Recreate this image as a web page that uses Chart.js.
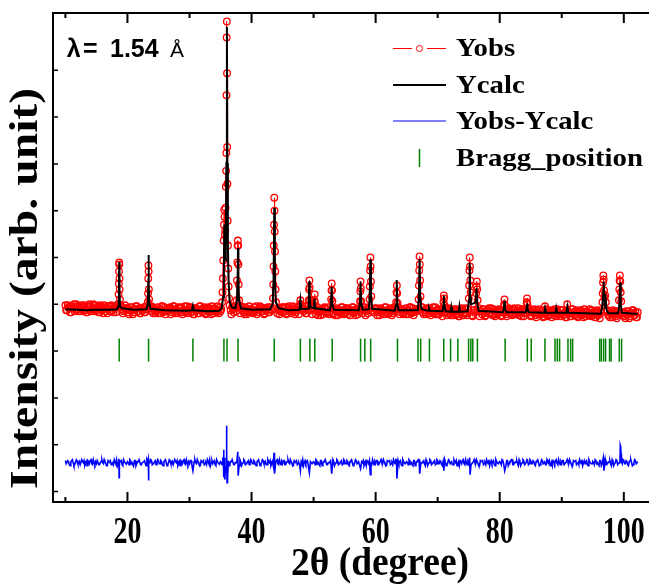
<!DOCTYPE html>
<html>
<head>
<meta charset="utf-8">
<script src="https://cdn.jsdelivr.net/npm/chart.js@4.4.1/dist/chart.umd.min.js"></script>
<style>
  html, body { margin: 0; padding: 0; background: #fff; }
  #xrd { display: block; }
</style>
</head>
<body>
<canvas id="xrd" width="662" height="584"></canvas>
<script>
///////////////////////////////////////////////////////////////
// data (2theta in degree, intensity in arb. unit)
///////////////////////////////////////////////////////////////

// background parts of Yobs and Yobs-Ycalc: 0.25 deg grids, the second one shifted by 0.125
const GRID_STEP = 0.25;
const GRID_START_A = 10;
const GRID_START_B = 10.125;

const yobsBackgroundA = [
  187,182,185,180,186,184,181,188,183,186,181,185,187,182,180,185,186,183,188,181, // 10
  182,186,180,185,183,187,181,179,184,186,182,180,185,187,183,181,186,179,184,182, // 15
  184,178,182,185,180,183,186,181,179,184,182,180,186,183,178,185,181,184,179,182, // 20
  179,183,186,180,185,181,182,184,178,183,186,179,181,185,184,180,182,186,181,179, // 25
  185,180,183,178,184,182,179,186,181,184,179,183,185,180,178,183,184,181,186,179, // 30
  181,185,179,184,182,186,180,178,183,185,181,179,184,186,182,180,185,178,183,181, // 35
  183,179,181,186,180,182,185,181,178,184,183,180,185,182,179,186,181,183,178,182, // 40
  180,184,185,179,186,181,183,184,178,182,185,180,181,186,183,179,182,185,181,178, // 45
  184,179,182,177,183,181,178,185,180,183,178,182,184,179,177,182,183,180,185,178, // 50
  180,184,178,183,181,185,179,177,182,184,180,178,183,185,181,179,184,177,182,180, // 55
  183,177,181,184,179,182,185,180,178,183,181,179,185,182,177,184,180,183,178,181, // 60
  178,182,185,179,184,180,181,183,177,182,185,178,180,184,183,179,181,185,180,178, // 65
  183,178,181,176,182,180,177,184,179,182,177,181,183,178,176,181,182,179,184,177, // 70
  179,183,177,182,180,184,178,176,181,183,179,177,182,184,180,178,183,176,181,179, // 75
  182,176,180,183,178,181,184,179,177,182,180,178,184,181,176,183,179,182,177,180, // 80
  176,180,183,177,182,178,179,181,175,180,183,176,178,182,181,177,179,183,178,176, // 85
  182,177,180,175,181,179,176,183,178,181,176,180,182,177,175,180,181,178,183,176, // 90
  177,181,175,180,178,182,176,174,179,181,177,175,180,182,178,176,181,174,179,177, // 95
  180,174,178,181,176,179,182,177,175,180                                          // 100
];

const yobsBackgroundB = [
  182,187,184,180,185,188,183,186,181,184,187,182,185,180,186,188,181,184,183,187, // 10.125
  184,180,187,182,179,185,183,186,181,187,182,184,180,185,186,179,183,181,187,184, // 15.125
  180,185,182,178,183,186,181,184,179,182,185,180,183,178,184,186,179,182,181,185, // 20.125
  183,179,186,181,178,184,182,185,180,186,181,183,179,184,185,178,182,180,186,183, // 25.125
  185,181,178,184,182,179,186,183,180,185,178,182,184,181,186,179,183,180,182,185, // 30.125
  183,179,186,181,178,184,182,185,180,186,181,183,179,184,185,178,182,180,186,183, // 35.125
  180,185,182,178,183,186,181,184,179,182,185,180,183,178,184,186,179,182,181,185, // 40.125
  185,181,178,184,182,179,186,183,180,185,178,182,184,181,186,179,183,180,182,185, // 45.125
  182,178,185,180,177,183,181,184,179,185,180,182,178,183,184,177,181,179,185,182, // 50.125
  179,184,181,177,182,185,180,183,178,181,184,179,182,177,183,185,178,181,180,184, // 55.125
  184,180,177,183,181,178,185,182,179,184,177,181,183,180,185,178,182,179,181,184, // 60.125
  182,178,185,180,177,183,181,184,179,185,180,182,178,183,184,177,181,179,185,182, // 65.125
  178,183,180,176,181,184,179,182,177,180,183,178,181,176,182,184,177,180,179,183, // 70.125
  183,179,176,182,180,177,184,181,178,183,176,180,182,179,184,177,181,178,180,183, // 75.125
  181,177,184,179,176,182,180,183,178,184,179,181,177,182,183,176,180,178,184,181, // 80.125
  177,182,179,175,180,183,178,181,176,179,182,177,180,175,181,183,176,179,178,182, // 85.125
  182,178,175,181,179,176,183,180,177,182,175,179,181,178,183,176,180,177,179,182, // 90.125
  179,175,182,177,174,180,178,181,176,182,177,179,175,180,181,174,178,176,182,179, // 95.125
  176,181,178,174,179,182,177,180,175                                              // 100.125
];

// Yobs points on the reflections [2theta, I]
const yobsPeaks = [
  [18.52,188],[18.57,198],[18.61,209],[18.64,221],[18.67,230],[18.69,228],[18.72,214],[18.75,203],[18.79,193],[18.84,187],
  [23.27,190],[23.31,199],[23.35,214],[23.38,227],[23.41,221],[23.45,203],[23.49,193],
  [35.25,190],[35.32,200],[35.38,214],[35.44,232],[35.5,252],[35.55,268],[35.6,283],[35.65,276],[35.7,258],
  [35.76,262],[35.81,285],[35.86,306],[35.9,322],[35.93,340],[35.96,398],[35.99,456],[36.02,472],[36.05,420],
  [36.08,346],[36.11,309],[36.15,272],[36.2,247],[36.25,224],[36.31,206],[36.38,194],[36.46,187],
  [37.6,192],[37.66,212],[37.71,230],[37.76,247],[37.8,252],[37.84,247],[37.88,228],[37.93,208],[38.0,192],
  [43.45,194],[43.5,208],[43.54,226],[43.58,247],[43.62,268],[43.66,295],[43.7,282],[43.74,261],[43.78,241],
  [43.83,221],[43.88,203],[43.95,190],
  [47.82,188],[47.87,192],[47.92,188],
  [49.22,192],[49.27,203],[49.32,212],[49.37,205],[49.43,192],
  [50.12,192],[50.17,198],[50.22,190],
  [52.83,193],[52.88,202],[52.92,209],[52.97,202],[53.03,191],
  [57.49,191],[57.53,201],[57.57,211],[57.61,204],[57.67,191],
  [59.02,193],[59.07,206],[59.11,222],[59.15,235],[59.19,226],[59.24,211],[59.3,196],
  [63.32,190],[63.37,200],[63.42,207],[63.47,199],[63.54,189],
  [66.93,193],[66.98,207],[67.03,222],[67.08,236],[67.12,228],[67.17,212],[67.24,196],
  [70.93,190],[70.99,197],[71.04,194],[71.1,187],
  [75.02,194],[75.07,207],[75.12,222],[75.17,235],[75.21,226],[75.26,212],[75.32,200],
  [76.2,199],[76.26,206],[76.31,211],[76.37,203],[76.44,192],
  [80.7,188],[80.76,193],[80.83,187],
  [84.35,190],[84.41,194],[84.48,188],
  [87.3,186],
  [90.88,188],
  [96.55,190],[96.6,199],[96.65,210],[96.7,217],[96.76,213],[96.82,202],[96.9,195],[97.0,197],[97.1,190],
  [99.22,192],[99.27,203],[99.32,212],[99.37,217],[99.43,211],[99.5,200],[99.58,191]
];

// Ycalc profile [2theta, I]
const ycalc = [
  [10.0,183],[12.0,182.5],[13.5,182],[14.5,182.5],[17.0,182.5],[18.3,183],
  [18.55,186],[18.62,200],[18.67,230.5],[18.72,200],[18.8,186],[19.1,184],
  [21.0,182.5],[23.1,183],[23.3,190],[23.36,210],[23.4,237.5],[23.44,210],[23.5,190],[23.7,183.5],
  [26.0,182],[29.5,181.5],[30.4,182],[30.55,186.5],[30.7,182],[33.0,181],[34.8,181.5],
  [35.2,184],[35.4,195],[35.55,230],[35.62,268],[35.68,240],[35.75,232],[35.85,245],[35.95,330],
  [36.03,466.5],[36.1,330],[36.18,250],[36.3,210],[36.5,190],[36.8,185],
  [37.4,184],[37.65,192],[37.76,215],[37.82,244.5],[37.88,215],[37.98,192],[38.3,184],
  [40.0,182.5],[43.0,183],[43.4,188],[43.56,215],[43.66,284.8],[43.76,215],[43.92,190],[44.4,184],
  [46.0,182],[47.7,182.5],[47.87,192.2],[48.02,183],
  [49.1,183.5],[49.23,195],[49.3,211.5],[49.37,195],[49.5,185],
  [50.05,184],[50.15,193.5],[50.25,184],
  [52.6,182],[52.8,188],[52.9,205.5],[53.0,188],[53.3,182.5],
  [57.3,182],[57.48,190],[57.57,210.8],[57.66,190],[57.9,182.5],
  [58.9,183],[59.05,195],[59.15,233.2],[59.25,195],[59.45,183.5],
  [63.1,181.5],[63.3,188],[63.4,212.5],[63.5,188],[63.7,182],
  [66.8,182],[66.98,195],[67.08,233.2],[67.18,195],[67.4,183],
  [68.45,181.5],[68.6,184.2],[68.75,181.5],
  [70.8,181],[70.92,187],[71.0,196.5],[71.08,187],[71.3,181],
  [72.1,180.5],[72.2,185],[72.3,180.5],[73.4,180.5],[73.5,185.5],[73.6,180.5],
  [74.8,181],[75.05,192],[75.15,229.8],[75.25,195],[75.35,188],[76.15,190],[76.25,204.2],[76.4,188],[76.6,181.5],
  [80.5,180],[80.65,183],[80.75,191.5],[80.85,183],[81.1,180],
  [84.2,180],[84.32,183],[84.4,188.8],[84.48,183],[84.7,180],
  [87.2,179.5],[87.3,183.5],[87.4,179.5],[89.0,179.5],[89.1,183.5],[89.2,179.5],
  [90.75,179.5],[90.9,185.5],[91.05,179.5],
  [96.3,178.5],[96.55,186],[96.68,200],[96.75,210.8],[96.82,198],[96.95,190],[97.07,193.5],[97.2,183],[97.5,179],
  [99.1,179],[99.3,188],[99.4,209.8],[99.5,188],[99.7,179.5],[102.2,178.2]
];

// Yobs-Ycalc (shifted down)
const diffBackgroundA = [
  31,28,30,26,31,29,27,32,28,30,27,30,31,28,26,30,31,28,32,27,
  28,31,27,30,29,32,28,26,30,31,28,27,30,32,29,28,31,26,30,28,
  30,27,31,29,26,31,28,30,32,27,29,31,26,30,28,32,27,29,31,28,
  31,28,30,26,31,29,27,32,28,30,27,30,31,28,26,30,31,28,32,27,
  28,31,27,30,29,32,28,26,30,31,28,27,30,32,29,28,31,26,30,28,
  30,27,31,29,26,31,28,30,32,27,29,31,26,30,28,32,27,29,31,28,
  31,28,30,26,31,29,27,32,28,30,27,30,31,28,26,30,31,28,32,27,
  28,31,27,30,29,32,28,26,30,31,28,27,30,32,29,28,31,26,30,28,
  30,27,31,29,26,31,28,30,32,27,29,31,26,30,28,32,27,29,31,28,
  31,28,30,26,31,29,27,32,28,30,27,30,31,28,26,30,31,28,32,27,
  28,31,27,30,29,32,28,26,30,31,28,27,30,32,29,28,31,26,30,28,
  30,27,31,29,26,31,28,30,32,27,29,31,26,30,28,32,27,29,31,28,
  31,28,30,26,31,29,27,32,28,30,27,30,31,28,26,30,31,28,32,27,
  28,31,27,30,29,32,28,26,30,31,28,27,30,32,29,28,31,26,30,28,
  30,27,31,29,26,31,28,30,32,27,29,31,26,30,28,32,27,29,31,28,
  31,28,30,26,31,29,27,32,28,30,27,30,31,28,26,30,31,28,32,27,
  28,31,27,30,29,32,28,26,30,31,28,27,30,32,29,28,31,26,30,28,
  30,27,31,29,26,31,28,30,32,27,29,31,26,30,28,32,27,29,31,28,
  31,28,30,26,31,29,27,32,28,30
];

const diffBackgroundB = [
  28,31,27,30,32,26,29,31,28,27,32,29,26,30,31,28,32,27,29,30,
  31,27,29,32,28,30,26,31,30,27,29,32,28,26,31,30,27,32,29,28,
  29,32,28,27,31,26,30,32,27,29,30,28,32,26,29,31,28,30,27,32,
  28,31,27,30,32,26,29,31,28,27,32,29,26,30,31,28,32,27,29,30,
  31,27,29,32,28,30,26,31,30,27,29,32,28,26,31,30,27,32,29,28,
  29,32,28,27,31,26,30,32,27,29,30,28,32,26,29,31,28,30,27,32,
  28,31,27,30,32,26,29,31,28,27,32,29,26,30,31,28,32,27,29,30,
  31,27,29,32,28,30,26,31,30,27,29,32,28,26,31,30,27,32,29,28,
  29,32,28,27,31,26,30,32,27,29,30,28,32,26,29,31,28,30,27,32,
  28,31,27,30,32,26,29,31,28,27,32,29,26,30,31,28,32,27,29,30,
  31,27,29,32,28,30,26,31,30,27,29,32,28,26,31,30,27,32,29,28,
  29,32,28,27,31,26,30,32,27,29,30,28,32,26,29,31,28,30,27,32,
  28,31,27,30,32,26,29,31,28,27,32,29,26,30,31,28,32,27,29,30,
  31,27,29,32,28,30,26,31,30,27,29,32,28,26,31,30,27,32,29,28,
  29,32,28,27,31,26,30,32,27,29,30,28,32,26,29,31,28,30,27,32,
  28,31,27,30,32,26,29,31,28,27,32,29,26,30,31,28,32,27,29,30,
  31,27,29,32,28,30,26,31,30,27,29,32,28,26,31,30,27,32,29,28,
  29,32,28,27,31,26,30,32,27,29,30,28,32,26,29,31,28,30,27,32,
  28,31,27,30,32,26,29,31,28
];

const diffSpikes = [
  [18.62,33],[18.66,14],[18.7,31],
  [23.36,33],[23.4,11],[23.44,30],
  [30.55,21],
  [35.46,31],[35.5,42],[35.55,14],[35.62,34],[35.7,12],[35.8,25],[35.9,20],[35.97,66],[36.01,40],
  [36.05,9],[36.1,22],[36.17,13],[36.26,31],
  [37.78,40],[37.84,16],
  [43.62,39],[43.7,18],
  [47.87,21],[49.32,19],[52.92,18],[57.57,23],[59.15,17],
  [63.37,32],[63.43,13],
  [67.1,18],[71.0,21],
  [75.15,34],[75.22,17],
  [80.8,21],[84.4,32],
  [96.7,34],[96.8,21],
  [99.38,30],[99.43,46],[99.5,44],[99.56,38],[99.62,30]
];

// Bragg reflections (2theta)
const braggPositions = [
  18.67, 23.4, 30.55, 35.55, 36.05, 37.82, 43.66, 47.87, 49.4, 50.19, 53.0,
  57.57, 58.26, 59.2, 63.52, 66.83, 67.26, 68.67, 70.98, 72.08, 73.25,
  74.98, 75.35, 75.66, 76.4, 80.87, 84.45, 85.08, 87.29, 88.91, 89.28, 89.65,
  91.0, 91.43, 91.75, 96.12, 96.38, 96.75, 97.07, 97.7, 97.95, 99.27, 99.64
];
const braggLevel = 142;

// axes
const X_MIN = 8.0, X_MAX = 104.06;
const Y_MIN = -10.5, Y_MAX = 480.5;
const xMajorTicks = [20, 40, 60, 80, 100];
const xTickLabels = ['20', '40', '60', '80', '100'];
const xMinorTicks = [10, 30, 50, 70, 90];
const yTicks = [0, 47, 94, 141, 188, 235, 282, 329, 376, 423];

///////////////////////////////////////////////////////////////
// helpers
///////////////////////////////////////////////////////////////

const SERIF = '"Liberation Serif", "Times New Roman", serif';
const SANS = '"Liberation Sans", Arial, sans-serif';

function gridPoints(values, start) {
  return values.map((v, i) => ({ x: start + i * GRID_STEP, y: v }));
}

// background grid(s) + peak points; grid points sitting on a peak are dropped
function mergeSeries(grids, peakPoints) {
  const pts = [];
  grids.forEach(g => {
    g.forEach(p => {
      if (!peakPoints.some(q => Math.abs(q[0] - p.x) < 0.08)) pts.push(p);
    });
  });
  peakPoints.forEach(q => pts.push({ x: q[0], y: q[1] }));
  pts.sort((a, b) => a.x - b.x);
  return pts;
}

function text(ctx, str, x, y, font, align, sx, sy) {
  ctx.save();
  ctx.translate(x, y);
  ctx.scale(sx, sy);
  ctx.font = font;
  ctx.textAlign = align;
  ctx.textBaseline = 'alphabetic';
  ctx.fillText(str, 0, 0);
  ctx.restore();
}

function textToWidth(ctx, str, x, y, font, align, width, sy) {
  ctx.save();
  ctx.font = font;
  const w = ctx.measureText(str).width;
  ctx.restore();
  text(ctx, str, x, y, font, align, width / w, sy);
}

///////////////////////////////////////////////////////////////
// frame, ticks, titles, legend
///////////////////////////////////////////////////////////////

const decorations = {
  id: 'decorations',
  afterDraw(chart) {
    const { ctx, chartArea: a } = chart;
    const xs = chart.scales.x, ys = chart.scales.y;

    ctx.save();
    ctx.strokeStyle = '#000';
    ctx.fillStyle = '#000';
    ctx.lineWidth = 2;

    ctx.beginPath();
    ctx.moveTo(a.right, a.top); ctx.lineTo(a.left, a.top);
    ctx.lineTo(a.left, a.bottom); ctx.lineTo(a.right, a.bottom);
    ctx.stroke();

    // x ticks (inside, bottom and top)
    ctx.beginPath();
    xMajorTicks.forEach(v => {
      const px = xs.getPixelForValue(v);
      ctx.moveTo(px, a.bottom); ctx.lineTo(px, a.bottom - 10);
      ctx.moveTo(px, a.top); ctx.lineTo(px, a.top + 10);
    });
    xMinorTicks.forEach(v => {
      const px = xs.getPixelForValue(v);
      ctx.moveTo(px, a.bottom); ctx.lineTo(px, a.bottom - 5);
      ctx.moveTo(px, a.top); ctx.lineTo(px, a.top + 5);
    });
    ctx.stroke();

    // y ticks (inside, no labels)
    ctx.lineWidth = 1.5;
    ctx.beginPath();
    yTicks.forEach(v => {
      const py = ys.getPixelForValue(v);
      ctx.moveTo(a.left, py); ctx.lineTo(a.left + 5, py);
    });
    ctx.stroke();

    // tick labels
    xMajorTicks.forEach((v, i) => {
      text(ctx, xTickLabels[i], xs.getPixelForValue(v), 543, `bold 28px ${SERIF}`, 'center', 1, 1.35);
    });

    // axis titles
    textToWidth(ctx, '2\u03B8 (degree)', 380, 575, `bold 40px ${SERIF}`, 'center', 178, 1);

    ctx.save();
    ctx.translate(36.8, 288.4);
    ctx.rotate(-Math.PI / 2);
    textToWidth(ctx, 'Intensity (arb. unit)', 0, 0, `bold 39px ${SERIF}`, 'center', 401, 1);
    ctx.restore();

    // wavelength
    text(ctx, '\u03BB', 66.7, 57.3, `bold 25px ${SANS}`, 'left', 1, 1);
    text(ctx, '=', 83, 57.3, `bold 25px ${SANS}`, 'left', 1, 1);
    text(ctx, '1.54', 110, 57.3, `bold 25px ${SANS}`, 'left', 1, 1);
    text(ctx, '\u00C5', 170, 57.3, `21px ${SANS}`, 'left', 1, 1);

    // legend
    const lx = 393, rx = 446, tx = 456;
    const lf = `bold 25px ${SERIF}`;

    ctx.lineWidth = 1;
    ctx.strokeStyle = '#ff0000';
    ctx.beginPath();
    ctx.moveTo(lx, 48.5); ctx.lineTo(412, 48.5);
    ctx.moveTo(427, 48.5); ctx.lineTo(rx, 48.5);
    ctx.stroke();
    ctx.beginPath();
    ctx.arc(419.5, 48.5, 3, 0, Math.PI * 2);
    ctx.stroke();
    text(ctx, 'Yobs', tx, 56, lf, 'left', 1.15, 1);

    ctx.lineWidth = 2;
    ctx.strokeStyle = '#000';
    ctx.beginPath();
    ctx.moveTo(lx, 85); ctx.lineTo(rx, 85);
    ctx.stroke();
    text(ctx, 'Ycalc', tx, 92.7, lf, 'left', 1.15, 1);

    ctx.lineWidth = 1.2;
    ctx.strokeStyle = '#0000ff';
    ctx.beginPath();
    ctx.moveTo(lx, 121); ctx.lineTo(rx, 121);
    ctx.stroke();
    text(ctx, 'Yobs-Ycalc', tx, 129.3, lf, 'left', 1.15, 1);

    ctx.lineWidth = 1.5;
    ctx.strokeStyle = '#008000';
    ctx.beginPath();
    ctx.moveTo(419.5, 149); ctx.lineTo(419.5, 167);
    ctx.stroke();
    text(ctx, 'Bragg_position', tx, 165.7, lf, 'left', 1.15, 1);

    ctx.restore();
  }
};

///////////////////////////////////////////////////////////////
// chart
///////////////////////////////////////////////////////////////

const yobsData = mergeSeries(
  [gridPoints(yobsBackgroundA, GRID_START_A), gridPoints(yobsBackgroundB, GRID_START_B)],
  yobsPeaks
);
const diffData = mergeSeries(
  [gridPoints(diffBackgroundA, GRID_START_A), gridPoints(diffBackgroundB, GRID_START_B)],
  diffSpikes
);

new Chart(document.getElementById('xrd').getContext('2d'), {
  type: 'scatter',
  data: {
    datasets: [
      {
        label: 'Yobs',
        data: yobsData,
        showLine: true,
        borderColor: '#ff0000',
        borderWidth: 1,
        pointStyle: 'circle',
        pointRadius: 3.3,
        pointBorderWidth: 1.3,
        pointBorderColor: '#ff0000',
        pointBackgroundColor: 'rgba(0,0,0,0)',
        order: 3
      },
      {
        label: 'Ycalc',
        data: ycalc.map(p => ({ x: p[0], y: p[1] })),
        showLine: true,
        borderColor: '#000',
        borderWidth: 2,
        pointRadius: 0,
        order: 2
      },
      {
        label: 'Yobs-Ycalc',
        data: diffData,
        showLine: true,
        borderColor: '#0000ff',
        borderWidth: 1.6,
        pointRadius: 0,
        order: 1
      },
      {
        label: 'Bragg_position',
        data: braggPositions.map(x => ({ x, y: braggLevel })),
        pointStyle: 'line',
        pointRotation: 90,
        pointRadius: 11.5,
        pointBorderWidth: 1.5,
        pointBorderColor: '#008000',
        order: 1
      }
    ]
  },
  options: {
    responsive: false,
    animation: false,
    events: [],
    layout: { padding: { left: 53, right: 0, top: 11, bottom: 82 } },
    scales: {
      x: { type: 'linear', min: X_MIN, max: X_MAX, display: false },
      y: { type: 'linear', min: Y_MIN, max: Y_MAX, display: false }
    },
    plugins: {
      legend: { display: false },
      tooltip: { enabled: false }
    }
  },
  plugins: [decorations]
});
</script>
</body>
</html>
